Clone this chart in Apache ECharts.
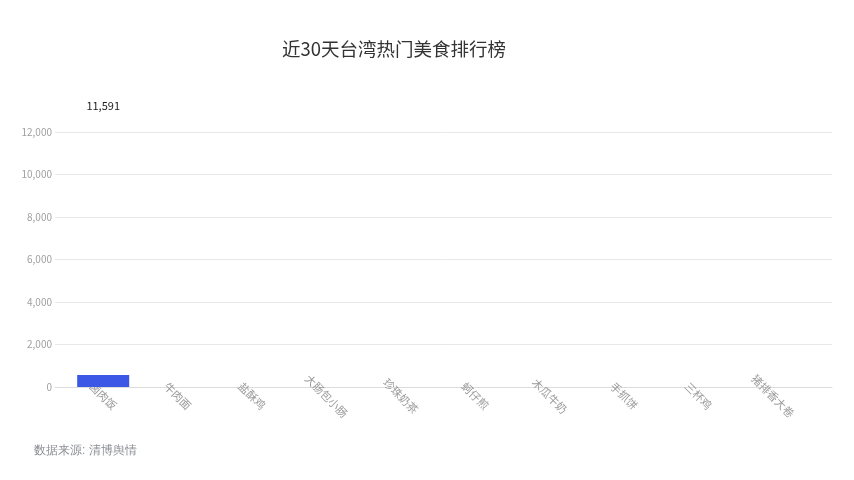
<!DOCTYPE html>
<html>
<head>
<meta charset="utf-8">
<script src="https://cdn.jsdelivr.net/npm/echarts@6/dist/echarts.min.js"></script>
<style>html,body{margin:0;padding:0;background:#fff;}#c{width:854px;height:480px;}</style>
</head>
<body>
<div id="c"></div>
<script>
var titleText = '近30天台湾热门美食排行榜';
var sourceText = '数据来源: 清博舆情';
var categories = ['卤肉饭','牛肉面','盐酥鸡','大肠包小肠','珍珠奶茶','蚵仔煎','木瓜牛奶','手抓饼','三杯鸡','猪排香大卷'];
var heatValues = [565,0,0,0,0,0,0,0,0,0];
var labelTexts = ['11,591','','','','','','','','',''];
var yTicks = {min: 0, max: 12000, interval: 2000};

var font = "'Noto Sans CJK SC', 'Noto Sans', sans-serif";
var chart = echarts.init(document.getElementById('c'));
chart.setOption({
  animation: false,
  backgroundColor: '#fff',
  textStyle: {fontFamily: font},
  title: {
    text: titleText,
    left: 277,
    top: 35,
    textStyle: {fontSize: 18.5, fontWeight: 'normal', color: '#333', fontFamily: font}
  },
  graphic: [{
    type: 'text',
    left: 34,
    top: 445,
    style: {text: sourceText, fontSize: 12, fill: '#8a8d94', font: "12px 'Noto Sans CJK SC', sans-serif"}
  }],
  grid: [
    {left: 55, right: 22, top: 132, bottom: 93, containLabel: false},
    {left: 66, right: 44, top: 132, bottom: 93, containLabel: false}
  ],
  xAxis: [{
    gridIndex: 0,
    type: 'value',
    min: 0,
    max: 1,
    axisLine: {show: true, lineStyle: {color: '#dcdcdc'}},
    axisTick: {show: false},
    axisLabel: {show: false},
    splitLine: {show: false}
  }, {
    gridIndex: 1,
    type: 'category',
    data: categories,
    axisLine: {show: false},
    axisTick: {show: false},
    axisLabel: {
      interval: 0, rotate: -45, align: 'center', verticalAlign: 'middle',
      fontSize: 11, color: '#9a9a9a', margin: 9, fontFamily: font
    }
  }],
  yAxis: [{
    gridIndex: 0,
    type: 'value',
    min: yTicks.min,
    max: yTicks.max,
    interval: yTicks.interval,
    axisLine: {show: false},
    axisTick: {show: false},
    splitLine: {lineStyle: {color: '#e8e8e8'}},
    axisLabel: {
      fontSize: 10, color: '#a0a0a0', margin: 3, fontFamily: font,
      formatter: function (v) { return v.toLocaleString('en-US'); }
    }
  }, {
    gridIndex: 1,
    type: 'value',
    min: yTicks.min,
    max: yTicks.max,
    interval: yTicks.interval,
    show: false
  }],
  series: [{
    type: 'bar',
    xAxisIndex: 1,
    yAxisIndex: 1,
    data: heatValues,
    barWidth: 52,
    itemStyle: {color: '#3c56e6'},
    label: {
      show: true,
      position: 'top',
      offset: [0, -259],
      fontSize: 11,
      color: '#222',
      fontFamily: font,
      formatter: function (p) { return labelTexts[p.dataIndex]; }
    }
  }]
});
</script>
</body>
</html>
